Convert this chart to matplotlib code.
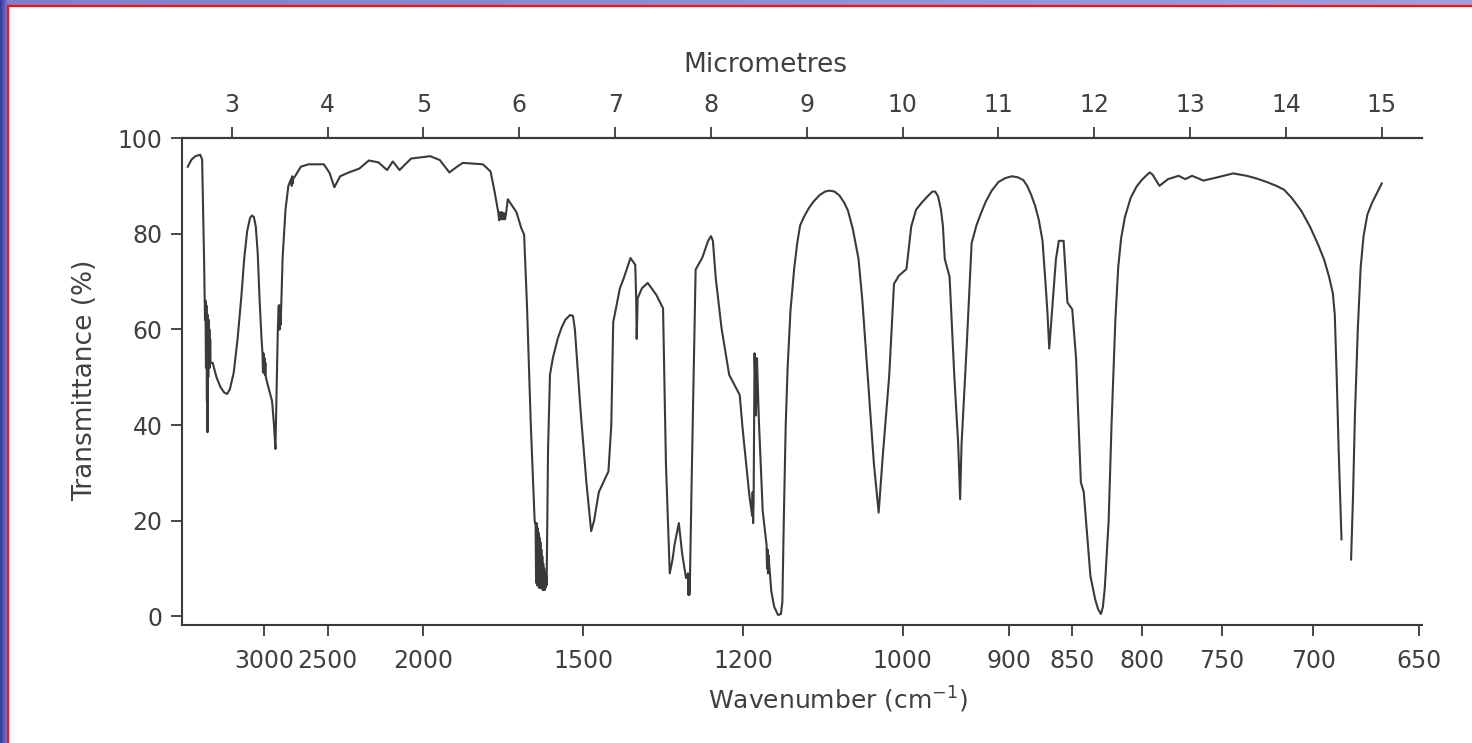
import numpy as np
import matplotlib
matplotlib.use('Agg')
import matplotlib.pyplot as plt
from matplotlib.patches import Rectangle

# ---- data (wavelength in micrometres, transmittance %) ----
wavelength_um = [
    2.54, 2.58, 2.62, 2.67, 2.69, 2.71, 2.72,
    2.725, 2.73, 2.735, 2.74, 2.743, 2.746, 2.75, 2.754, 2.758, 2.762, 2.766, 2.77, 2.774, 2.778,
    2.80, 2.84, 2.88, 2.92, 2.95, 2.98, 3.02, 3.06, 3.10, 3.13, 3.16, 3.19, 3.21, 3.23, 3.25,
    3.27, 3.29, 3.31,
    3.32, 3.325, 3.33, 3.335, 3.34, 3.345, 3.35, 3.355,
    3.38, 3.42, 3.44, 3.455, 3.47, 3.48,
    3.49, 3.494, 3.498, 3.502, 3.506, 3.51,
    3.53, 3.56, 3.59, 3.62, 3.625, 3.63, 3.635, 3.64, 3.66, 3.72, 3.80, 3.96, 4.02, 4.07,
    4.13, 4.22, 4.33, 4.43, 4.53, 4.62, 4.68, 4.75, 4.87, 5.07, 5.17, 5.27, 5.35, 5.41,
    5.62, 5.70, 5.74, 5.78, 5.79, 5.80, 5.81, 5.82, 5.83, 5.84, 5.85, 5.86, 5.88, 5.92, 5.97,
    6.02, 6.05, 6.08, 6.12, 6.16,
    6.17, 6.175, 6.18, 6.185, 6.19, 6.195, 6.20, 6.205, 6.21, 6.215, 6.22, 6.225, 6.23,
    6.235, 6.24, 6.245, 6.25, 6.255, 6.26, 6.265, 6.27, 6.275, 6.28, 6.285,
    6.30, 6.32, 6.35, 6.40, 6.44, 6.48, 6.53, 6.56, 6.58, 6.64, 6.70, 6.75,
    6.78, 6.83, 6.93, 6.96, 6.98, 7.05, 7.09, 7.16, 7.21, 7.22, 7.225, 7.235, 7.28, 7.34,
    7.43, 7.50, 7.53, 7.57, 7.60, 7.62, 7.665, 7.70, 7.74, 7.76, 7.765, 7.77, 7.775, 7.78,
    7.80, 7.84, 7.91, 7.97, 8.00, 8.02, 8.05, 8.11, 8.19, 8.30, 8.33, 8.40,
    8.43, 8.435, 8.44, 8.445, 8.455, 8.47, 8.48, 8.50, 8.54,
    8.58, 8.585, 8.59, 8.595, 8.60, 8.63, 8.66, 8.70, 8.73, 8.745, 8.76, 8.78, 8.80, 8.83,
    8.87, 8.90, 8.93, 8.97, 9.02, 9.07, 9.13, 9.19, 9.24, 9.29, 9.34, 9.39, 9.43, 9.48,
    9.54, 9.58, 9.64, 9.70, 9.73, 9.75, 9.79, 9.86, 9.91, 9.96, 10.04, 10.09, 10.14, 10.20,
    10.26, 10.31, 10.34, 10.37, 10.40, 10.42, 10.44, 10.49, 10.54, 10.58, 10.60, 10.615, 10.67, 10.72,
    10.77, 10.82, 10.87, 10.93, 11.00, 11.07, 11.14, 11.20, 11.26, 11.30, 11.34, 11.38, 11.42, 11.46,
    11.49, 11.51, 11.53, 11.56, 11.60, 11.63, 11.68, 11.72, 11.77, 11.81,
    11.86, 11.89, 11.96, 12.01, 12.04, 12.07, 12.09, 12.11, 12.15, 12.18, 12.22, 12.25, 12.28, 12.32,
    12.38, 12.44, 12.49, 12.55, 12.58, 12.61, 12.68, 12.77, 12.88, 12.95, 13.02, 13.14, 13.29, 13.45,
    13.59, 13.70, 13.80, 13.90, 13.98, 14.06, 14.16, 14.25, 14.33, 14.40, 14.45, 14.49, 14.51, 14.53,
    14.55, 14.58, np.nan, 14.68, 14.70, 14.72, 14.75, 14.78, 14.81, 14.85, 14.90, 14.95, 15.00,
]
transmittance = [
    94.0, 95.5, 96.2, 96.5, 95.5, 75, 62,
    66, 52, 65, 45, 60, 38.5, 63, 50, 62, 53, 60, 52, 58, 53,
    53, 50, 48, 46.8, 46.5, 47.5, 51, 58, 67, 75, 80.5, 83.3, 83.8, 83.5, 81.5,
    76, 66, 58,
    55, 51, 55, 51, 54, 50.5, 53, 50,
    48, 45, 40, 35, 50, 60,
    65, 60, 65, 60, 64.5, 61,
    75, 85, 90, 91.5, 90, 92, 90.5, 91.5, 92, 94, 94.5, 94.5, 92.7, 89.7,
    92, 92.8, 93.6, 95.3, 94.9, 93.3, 95.1, 93.3, 95.7, 96.2, 95.4, 92.8, 94, 94.8,
    94.5, 93, 89, 84.5, 82.8, 84.5, 83, 84.5, 83, 84.3, 83, 84, 87.2, 86, 84.5,
    81.2, 79.8, 65, 40, 20,
    19, 7, 19.5, 6.5, 18.5, 6.5, 17.5, 6, 16.5, 6, 15.5, 6, 14,
    6, 12.5, 5.5, 11, 5.5, 10, 5.5, 9, 6, 8.5, 6.5,
    35, 50.5, 54, 58, 60.3, 62, 63, 62.8, 60, 42.8, 28, 17.8,
    20, 26, 30.3, 40, 61.5, 68.6, 70.7, 74.9, 73.5, 66, 58, 66.5, 68.6, 69.7,
    67.2, 64.4, 32, 9, 12, 15, 19.5, 13, 8, 9, 4.5, 8.5, 4.5, 7,
    30, 72.5, 75, 78.5, 79.5, 78.5, 70.7, 60.3, 50.5, 46.3, 39.3, 25.4,
    21, 26, 19.5, 24, 55, 42, 54, 41, 22,
    15, 10, 14, 9, 12.8, 5.2, 2, 0.3, 0.5, 3, 20, 40, 52, 64,
    73, 78, 81.7, 83.5, 85.3, 86.7, 88, 88.8, 89, 88.8, 88, 86.5, 84.8, 81,
    74.7, 66, 49, 32, 25.9, 21.7, 32.8, 50.3, 69.5, 71.2, 72.6, 81.5, 85, 86.5,
    87.8, 88.8, 88.8, 87.8, 85, 81.7, 74.7, 71, 50, 36, 24.5, 36, 57, 78,
    81.7, 84.4, 86.8, 89, 90.8, 91.6, 92, 91.8, 91.2, 90, 88.2, 86, 83, 78.5,
    70, 64, 56, 64, 74.7, 78.5, 78.5, 65.6, 64.2, 54,
    28, 26, 8.4, 3.5, 1.5, 0.5, 2, 6, 20, 40, 62, 73, 79, 83.5,
    87.5, 89.8, 91.1, 92.3, 92.8, 92.3, 90, 91.4, 92.1, 91.4, 92.1, 91.1, 91.8, 92.6,
    92.1, 91.5, 90.8, 90, 89.2, 87.5, 84.8, 81.5, 78, 74.5, 71, 67.5, 63, 50,
    35, 16.1, np.nan, 11.9, 25, 42, 60, 73, 79.5, 84, 86.5, 88.5, 90.5,
]
top_ticks_um = [3, 4, 5, 6, 7, 8, 9, 10, 11, 12, 13, 14, 15]
bottom_ticks_wavenumber = [3000, 2500, 2000, 1500, 1200, 1000, 900, 850, 800, 750, 700, 650]
y_ticks = [0, 20, 40, 60, 80, 100]

W, H = 1472, 743
fig = plt.figure(figsize=(W / 100, H / 100), dpi=100)

# ---- slide-like background frame ----
bg = fig.add_axes([0, 0, 1, 1], zorder=-10)
img = np.ones((H, W, 3))
top_l = np.array([0.50, 0.50, 0.80])
top_r = np.array([0.62, 0.62, 0.88])
for j in range(W):
    t = j / (W - 1)
    img[:, j] = top_l * (1 - t) + top_r * t
left_w = 9
for i in range(left_w):
    t = i / (left_w - 1)
    img[:, i] = np.array([0.22, 0.22, 0.62]) * (1 - t) + np.array([0.52, 0.53, 0.84]) * t
bg.imshow(img, extent=[0, W, 0, H], aspect='auto', interpolation='nearest')
bg.add_patch(Rectangle((8, -10), W + 10, H - 6 + 10, facecolor='white',
                       edgecolor='#ff1010', lw=1.6))
bg.set_xlim(0, W)
bg.set_ylim(0, H)
bg.axis('off')

# ---- main spectrum axes ----
ink = '#3a3a3a'
txt = '#404040'
ax = fig.add_axes([182 / W, 118 / H, 1240 / W, 487 / H])
ax.set_facecolor('none')
ax.plot(wavelength_um, transmittance, color=ink, lw=1.5, solid_joinstyle='round')
ax.set_xlim(2.48, 15.42)
ax.set_ylim(-1.8, 100)

for s in ['left', 'bottom', 'top']:
    ax.spines[s].set_color(ink)
    ax.spines[s].set_linewidth(1.5)
ax.spines['right'].set_visible(False)

ax.set_yticks(y_ticks)
ax.set_yticklabels([str(v) for v in y_ticks])
ax.set_xticks([1e4 / w for w in bottom_ticks_wavenumber])
ax.set_xticklabels([str(w) for w in bottom_ticks_wavenumber])
ax.tick_params(axis='both', direction='out', length=8, width=1.3, color=ink,
               labelcolor=txt, labelsize=17)
ax.tick_params(axis='x', pad=9)
ax.tick_params(axis='y', pad=6)

sec = ax.secondary_xaxis('top', functions=(lambda x: x, lambda x: x))
sec.set_xticks(top_ticks_um)
sec.set_xticklabels([str(v) for v in top_ticks_um])
sec.tick_params(direction='out', length=8, width=1.3, color=ink,
                labelcolor=txt, labelsize=17, pad=7)
sec.spines['top'].set_color(ink)
sec.spines['top'].set_linewidth(1.5)

fig.text(765 / W, 1 - 65 / H, 'Micrometres', ha='center', va='center',
         fontsize=19, color=txt)
fig.text(838 / W, 1 - 700 / H, 'Wavenumber (cm$^{-1}$)', ha='center', va='center',
         fontsize=18, color=txt)
fig.text(85 / W, 1 - 380 / H, 'Transmittance (%)', ha='center', va='center',
         rotation=90, fontsize=19, color=txt)

fig.savefig('out.png', dpi=100)
